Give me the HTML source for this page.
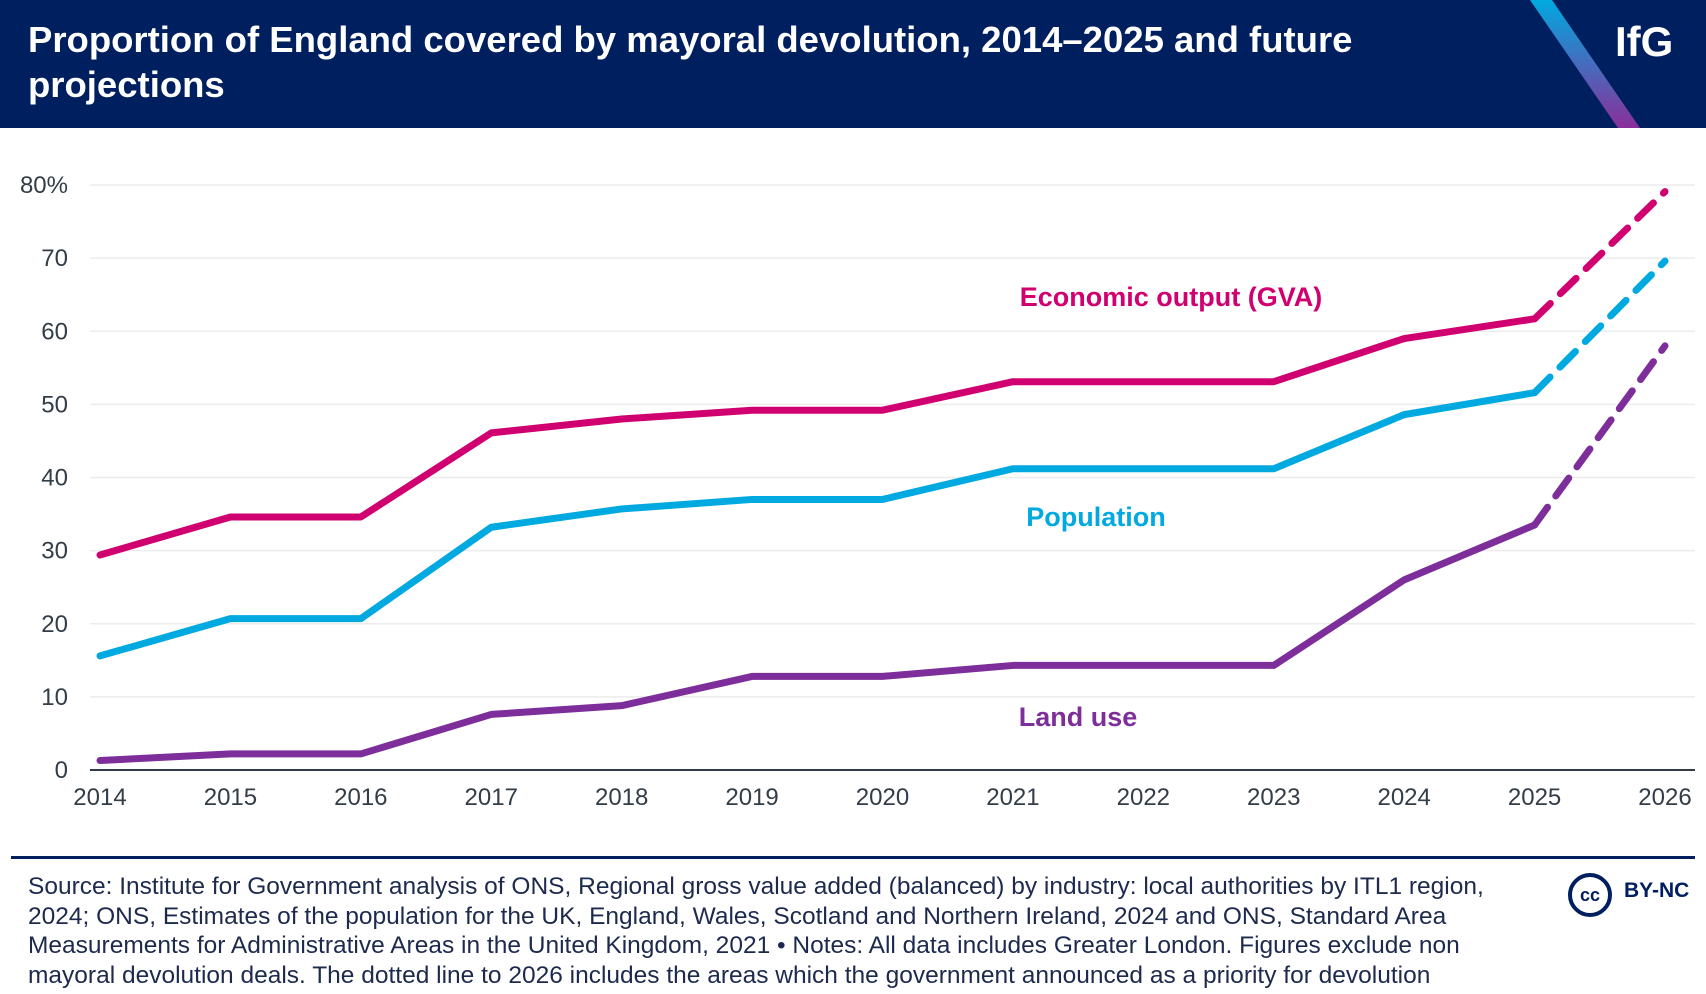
<!DOCTYPE html>
<html><head><meta charset="utf-8"><style>
body{margin:0;width:1706px;height:994px;background:#fff;font-family:"Liberation Sans",sans-serif;overflow:hidden;position:relative}
#hdr{position:absolute;left:0;top:0;width:1706px;height:128px;background:#001f5f;overflow:hidden}
#title{position:absolute;left:28px;top:17px;color:#fff;font-weight:bold;font-size:36.5px;line-height:45px;width:1420px}
#logo{position:absolute;left:1615px;top:18px;color:#fff;font-weight:bold;font-size:42px}
#src{position:absolute;left:28px;top:872px;width:1505px;font-size:24.5px;line-height:29.5px;color:#1d2a4d}
</style></head><body>
<div id="hdr">
<div id="title">Proportion of England covered by mayoral devolution, 2014–2025 and future projections</div>
<svg width="1706" height="128" style="position:absolute;left:0;top:0"><defs><linearGradient id="g" x1="0" y1="0" x2="0" y2="1"><stop offset="0" stop-color="#00a9e0"/><stop offset="1" stop-color="#8a2f9a"/></linearGradient></defs><polygon points="1530,0 1552,0 1640,128 1618,128" fill="url(#g)"/></svg>
<div id="logo">IfG</div>
</div>
<svg id="chart" width="1706" height="850" style="position:absolute;left:0;top:0"></svg>
<div style="position:absolute;left:11px;top:856px;width:1684px;height:3px;background:#001f5f"></div>
<div id="src">Source: Institute for Government analysis of ONS, Regional gross value added (balanced) by industry: local authorities by ITL1 region, 2024; ONS, Estimates of the population for the UK, England, Wales, Scotland and Northern Ireland, 2024 and ONS, Standard Area Measurements for Administrative Areas in the United Kingdom, 2021 • Notes: All data includes Greater London. Figures exclude non mayoral devolution deals. The dotted line to 2026 includes the areas which the government announced as a priority for devolution</div>
<div style="position:absolute;left:1568px;top:873px;width:36px;height:36px;border:4px solid #001f5f;border-radius:50%;color:#001f5f;font-weight:bold;font-size:18px;line-height:36px;text-align:center">cc</div>
<div style="position:absolute;left:1624px;top:879px;color:#001f5f;font-weight:bold;font-size:21px">BY-NC</div>
<script>
const years=[2014,2015,2016,2017,2018,2019,2020,2021,2022,2023,2024,2025,2026];
const gva=[29.4,34.6,34.6,46.1,48,49.2,49.2,53.1,53.1,53.1,59,61.7,79.1];
const population=[15.6,20.7,20.7,33.2,35.7,37,37,41.2,41.2,41.2,48.6,51.6,69.6];
const landUse=[1.3,2.2,2.2,7.6,8.8,12.8,12.8,14.3,14.3,14.3,26,33.5,58];
const yTicks=[0,10,20,30,40,50,60,70,80];
const NS='http://www.w3.org/2000/svg';
const svg=document.getElementById('chart');
const x0=100,x1=1665,y0=770,y1=185;
const X=i=>x0+(x1-x0)*i/(years.length-1);
const Y=v=>y0-(y0-y1)*v/80;
function mk(t,a){const e=document.createElementNS(NS,t);for(const k in a)e.setAttribute(k,a[k]);svg.appendChild(e);return e;}
yTicks.forEach(v=>{
 if(v>0){const g=mk('line',{x1:x0-10,x2:1695,y1:Y(v),y2:Y(v),stroke:'#ececec','stroke-width':1.5});
 
 }
 const t=mk('text',{x:68,y:Y(v)+8,'text-anchor':'end','font-size':24,fill:'#333d47','font-family':'Liberation Sans, sans-serif'});
 t.textContent=v===80?'80%':v;
 
 
});
const ax=mk('line',{x1:x0-10,x2:1695,y1:y0,y2:y0,stroke:'#333d47','stroke-width':2});


years.forEach((yr,i)=>{
 const t=mk('text',{x:X(i),y:805,'text-anchor':'middle','font-size':24,fill:'#333d47','font-family':'Liberation Sans, sans-serif'});
 t.textContent=yr;
 
 
});
function series(vals,color,name){
 const n=vals.length;
 const solid=vals.slice(0,n-1).map((v,i)=>X(i)+','+Y(v)).join(' ');
 const p=mk('polyline',{points:solid,fill:'none',stroke:color,'stroke-width':7,'stroke-linecap':'round','stroke-linejoin':'round'});
 
 
 const d=mk('line',{x1:X(n-2),y1:Y(vals[n-2]),x2:X(n-1),y2:Y(vals[n-1]),stroke:color,'stroke-width':7,'stroke-dasharray':'22 14','stroke-linecap':'round'});
 
 
}
series(gva,'#d10070','gva');
series(population,'#00a9e0','population');
series(landUse,'#7d2e9a','land-use');
function label(txt,x,y,c,n){const t=mk('text',{x:x,y:y,'text-anchor':'middle','font-size':27,'font-weight':'bold',fill:c,'font-family':'Liberation Sans, sans-serif'});t.textContent=txt;
 
 }
label('Economic output (GVA)',1171,306,'#d10070','gva-label');
label('Population',1096,526,'#00a9e0','population-label');
label('Land use',1078,726,'#7d2e9a','land-use-label');
</script>
</body></html>
